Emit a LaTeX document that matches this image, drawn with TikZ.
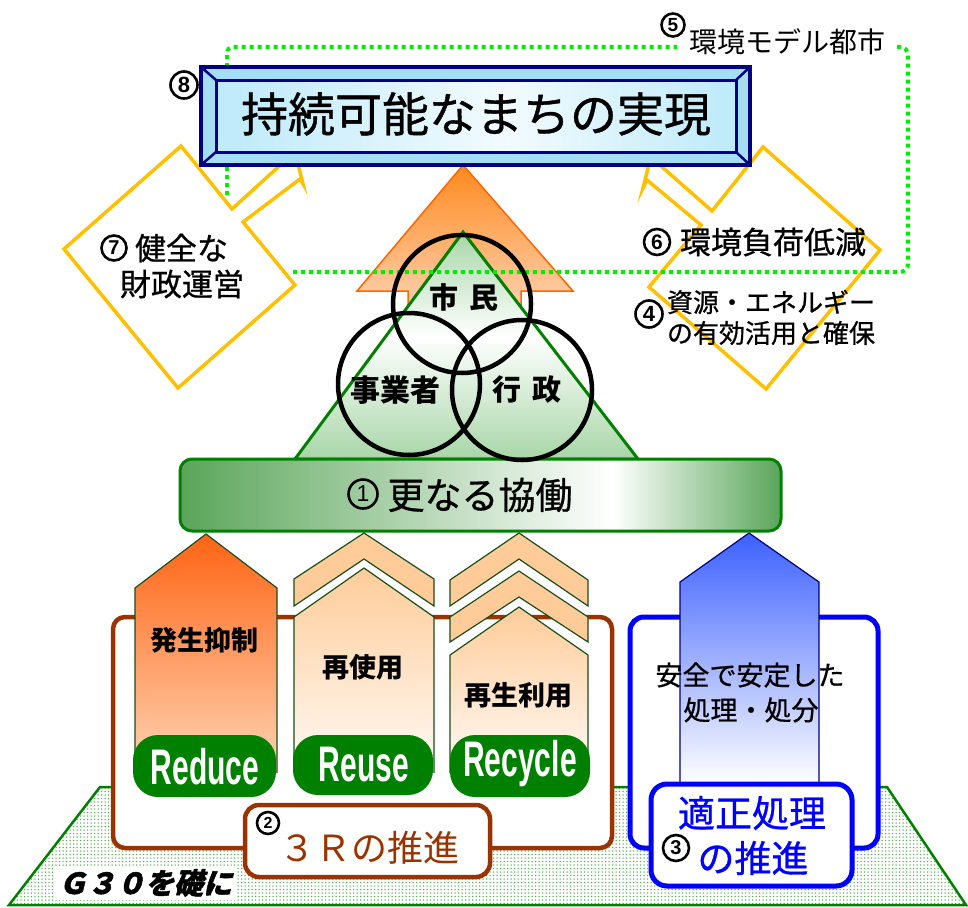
\documentclass[tikz,border=0pt]{standalone}
\usepackage{fontspec}
\setmainfont{Noto Sans CJK JP}
\newfontfamily\condf{Liberation Sans}[FakeStretch=0.6]
\newfontfamily\digf{Liberation Sans}
\newfontfamily\slantf{Noto Sans CJK JP}[FakeSlant=0.25,FakeBold=1.5]
\newfontfamily\medf{Noto Sans CJK JP}[FakeBold=0.8]
\usetikzlibrary{patterns.meta}
\newcommand{\myfs}[1]{\fontsize{#1}{#1}\selectfont}
\definecolor{ylw}{HTML}{FFC000}
\definecolor{dotg}{HTML}{00EE00}
\definecolor{navyc}{HTML}{000080}
\definecolor{brn}{HTML}{993300}
\definecolor{dg}{HTML}{008000}
\definecolor{blu}{HTML}{0000FF}
\definecolor{patc}{HTML}{4FAA4F}
\definecolor{gbar}{HTML}{5AA55A}
\definecolor{tg}{HTML}{A8D6A8}
\definecolor{bl1}{HTML}{BDEAFA}
\definecolor{bl2}{HTML}{F2FBFF}
\definecolor{bev}{HTML}{A3DEF5}
\definecolor{arrstroke}{HTML}{1A4D1A}
\definecolor{redtop}{HTML}{FF6414}
\definecolor{redbot}{HTML}{FFD4B4}
\definecolor{peach}{HTML}{FFCC99}
\definecolor{peachw}{HTML}{FFFAF6}
\definecolor{bluetop}{HTML}{3C60FF}
\definecolor{ortop}{HTML}{FF8A1E}
\definecolor{orbot}{HTML}{FFD6BA}
\definecolor{orline}{HTML}{FF6600}
\pgfdeclarehorizontalshading{barshade}{100bp}{color(0bp)=(gbar); color(25bp)=(gbar); color(61bp)=(white); color(75bp)=(gbar); color(100bp)=(gbar)}
\pgfdeclareverticalshading{trishade}{100bp}{color(0bp)=(tg); color(25bp)=(tg); color(52bp)=(white); color(75bp)=(tg); color(100bp)=(tg)}
\pgfdeclarehorizontalshading{bannershade}{100bp}{color(0bp)=(bl1); color(25bp)=(bl1); color(53bp)=(bl2); color(75bp)=(bl1); color(100bp)=(bl1)}
\tikzset{
  txt/.style={inner sep=0pt, outer sep=0pt, text=black},
  cn/.style={circle, draw=black, line width=2.6pt, inner sep=0pt, text=black, minimum size=#1pt},
  diam/.style={draw=ylw, line width=3.5pt, fill=white, line join=miter},
  arrbody/.style={draw=arrstroke, line width=1.2pt},
  chev/.style={draw=arrstroke, line width=1.2pt, fill=peach},
  pill/.style={fill=dg, rounded corners=25pt},
  rtxt/.style={txt, text=white, font=\condf\bfseries\myfs{50}},
  dotline/.style={draw=dotg, line width=4pt, dash pattern=on 4pt off 4pt},
}
\begin{document}
\begin{tikzpicture}[x=1pt,y=-1pt]
\useasboundingbox (0,0) rectangle (968,907);
\fill[white] (0,0) rectangle (968,907);
% base trapezoid
\path[pattern={Dots[distance=3.5pt,radius=0.75pt]}, pattern color=patc] (9,905) -- (100,787) -- (887,787) -- (966,905) -- cycle;
\draw[dg, line width=2.5pt] (9,905) -- (100,787) -- (887,787) -- (966,905) -- cycle;
\node[txt, fill=white, inner xsep=4pt, inner ysep=3pt] (g30) at (145,883) {\slantf\bfseries\myfs{29}Ｇ３０を礎に};
% 3R box and blue box
\draw[brn, line width=4.5pt, fill=white, rounded corners=12pt] (113,617) rectangle (612,848);
\draw[blu, line width=5pt, fill=white, rounded corners=14pt] (630,617) rectangle (878,848);
% Reduce arrow
\shade[top color=redtop, bottom color=redbot] (135,773) -- (135,588) -- (206,534) -- (277,588) -- (277,773) -- cycle;
\draw[arrbody] (135,773) -- (135,588) -- (206,534) -- (277,588) -- (277,773);
% Reuse arrow
\path[chev] (294,606) -- (294,579) -- (364,533) -- (434,579) -- (434,606) -- (364,559) -- cycle;
\shade[top color=peach, bottom color=peachw] (294,773) -- (294,617) -- (364,568) -- (434,617) -- (434,773) -- cycle;
\draw[arrbody] (294,773) -- (294,617) -- (364,568) -- (434,617) -- (434,773);
% Recycle arrow
\path[chev] (450,606) -- (450,580) -- (519,533) -- (588,580) -- (588,606) -- (519,559) -- cycle;
\path[chev] (450,642) -- (450,617) -- (519,571) -- (588,617) -- (588,642) -- (519,597) -- cycle;
\shade[top color=peach, bottom color=peachw] (450,773) -- (450,655) -- (519,607) -- (588,655) -- (588,773) -- cycle;
\draw[arrbody] (450,773) -- (450,655) -- (519,607) -- (588,655) -- (588,773);
% blue arrow
\shade[top color=bluetop, bottom color=white] (680,784) -- (680,582) -- (749,533) -- (819,582) -- (819,784) -- cycle;
\draw[navyc, line width=1.2pt] (680,784) -- (680,582) -- (749,533) -- (819,582) -- (819,784);
% pills
\fill[pill] (133,735) rectangle (276,797);
\fill[pill] (293,735) rectangle (433,795);
\fill[pill] (450,735) rectangle (590,797);
\node[rtxt] (reduce) at (205,767) {Reduce};
\node[rtxt] (reuse) at (364,765) {Reuse};
\node[rtxt] (recycle) at (520,764) {Recycle};
\node[txt] (hassei) at (204,640) {\bfseries\myfs{27}発生抑制};
\node[txt] (saishi) at (363,667) {\bfseries\myfs{27}再使用};
\node[txt] (saisei) at (518,695) {\bfseries\myfs{27}再生利用};
\node[txt] (anzen) at (750,675) {\medf\myfs{27}安全で安定した};
\node[txt] (shori) at (751,710) {\medf\myfs{27}処理・処分};
% label boxes
\draw[brn, line width=4.5pt, fill=white, rounded corners=14pt] (245,805) rectangle (490,877);
\node[cn=22, font=\digf\bfseries\myfs{16}] (n2) at (268,823) {2};
\node[txt, text=brn] (sanR) at (369,848) {\myfs{36}３Ｒの推進};
\draw[blu, line width=5pt, fill=white, rounded corners=16pt] (651,784) rectangle (852,886);
\node[txt, text=blu] (tekisei) at (752,813) {\medf\myfs{37}適正処理};
\node[txt, text=blu] (suishin) at (753,858) {\medf\myfs{37}の推進};
\node[cn=26, font=\digf\bfseries\myfs{20}] (n3) at (676,848) {3};
% diamonds with arrows
\path[diam] (181,146) -- (232,209) -- (287,159) -- (281,152) -- (292,140) -- (303,184) -- (300,179) -- (243,222) -- (295,285) -- (178,388) -- (64,249) -- cycle;
\path[diam] (763,147) -- (712,211) -- (653,159) -- (660,150) -- (655,140) -- (643,188) -- (647,180) -- (701,225) -- (649,287) -- (766,389) -- (880,250) -- cycle;
\node[cn=25, font=\digf\bfseries\myfs{20}] (n7) at (114,248) {7};
\node[txt, anchor=west] (kenzen) at (135,248) {\medf\myfs{31}健全な};
\node[txt] (zaisei) at (182,284) {\medf\myfs{31}財政運営};
\node[cn=26, font=\digf\bfseries\myfs{21}] (n6) at (657,242) {6};
\node[txt, anchor=west] (kankyo) at (680,242) {\medf\myfs{31}環境負荷低減};
\node[cn=27, font=\digf\bfseries\myfs{22}] (n4) at (649,314) {4};
\node[txt, anchor=west] (shigen) at (667,302) {\medf\myfs{26}資源・エネルギー};
\node[txt, anchor=west] (yuko) at (667,333) {\medf\myfs{26}の有効活用と確保};
% orange arrow and triangle
\shade[top color=ortop, bottom color=orbot, draw=orline, line width=1.5pt] (463,165) -- (573,291) -- (521,291) -- (521,318) -- (408,318) -- (408,291) -- (357,291) -- cycle;
\path[shading=trishade, draw=dg, line width=3pt] (463,232) -- (638,459) -- (295,459) -- cycle;
% green bar
\path[shading=barshade, draw=dg, line width=3pt, rounded corners=12pt] (180,459) rectangle (781,531);
\node[cn=29, font=\digf\myfs{23}] (n1) at (363,494) {1};
\node[txt] (kyodo) at (480,495) {\medf\myfs{37}更なる協働};
% dotted line
\draw[dotline, rounded corners=6pt] (227,195) -- (227,47) -- (677,47);
\draw[dotline, rounded corners=8pt] (897,47) -- (908,47) -- (908,272) -- (293,272);
\node[cn=23, font=\digf\bfseries\myfs{19}] (n5) at (673,25) {5};
\node[txt, anchor=west] (model) at (689,42) {\myfs{28}環境モデル都市};
% banner
\fill[bev] (201,67) rectangle (750,165);
\path[shading=bannershade] (216,80) rectangle (736,152);
\draw[navyc, line width=3pt] (216,80) rectangle (736,152);
\draw[navyc, line width=2.5pt] (201,67) -- (216,80) (750,67) -- (736,80) (201,165) -- (216,152) (750,165) -- (736,152);
\draw[navyc, line width=4.5pt] (201,67) rectangle (750,165);
\node[txt] (title) at (476,114) {\medf\myfs{47}持続可能なまちの実現};
\node[cn=27, font=\digf\bfseries\myfs{22}] (n8) at (184,85) {8};
% circles
\draw[line width=4.5pt] (462,304) circle[radius=69];
\draw[line width=4.5pt] (409,384) circle[radius=71];
\draw[line width=4.5pt] (522,390) circle[radius=70];
\node[txt] (shimin) at (464,297) {\bfseries\myfs{29}市\hspace{12pt}民};
\node[txt] (jigyo) at (395,390) {\bfseries\myfs{30}事業者};
\node[txt] (gyosei) at (527,390) {\bfseries\myfs{29}行\hspace{12pt}政};
\end{tikzpicture}
\end{document}
